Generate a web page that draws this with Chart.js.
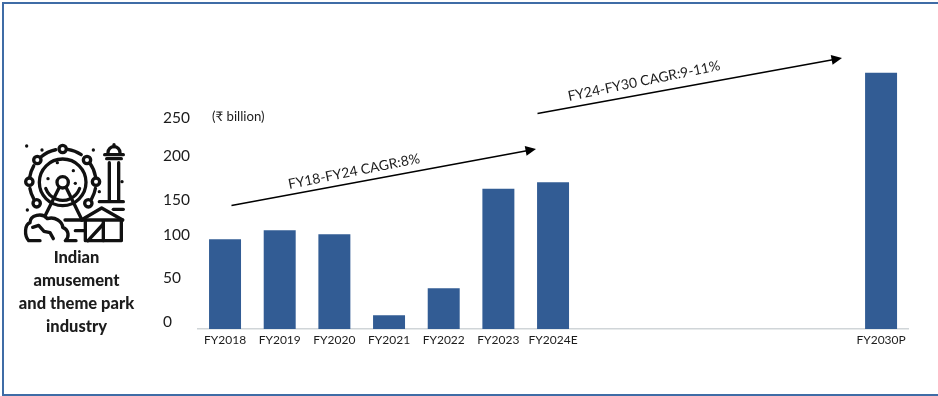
<!DOCTYPE html>
<html lang="en">
  <head>
    <meta charset="UTF-8" />
    <title>Indian amusement and theme park industry</title>
    <style>
      html, body { margin: 0; padding: 0; background: #fff; }
      canvas { display: block; }
    </style>
  </head>
  <body>
    <canvas id="chart" width="938" height="396"></canvas>
    <script src="https://cdn.jsdelivr.net/npm/chart.js@4/dist/chart.umd.js"></script>
    <script>
      const categories = ["FY2018", "FY2019", "FY2020", "FY2021", "FY2022", "FY2023", "FY2024E", "", "", "", "", "", "FY2030P"];
      const values = [110, 121, 116, 17, 50, 172, 180, null, null, null, null, null, 314];
      const tickLabels = [0, 50, 100, 150, 200, 250];
      const titleLines = ["Indian", "amusement", "and theme park", "industry"];

      // the tick labels sit a little above their true height in the original
      const tickNudge = [9, 13, 15, 8, 12, 9];

      const font = "Lato, Carlito, sans-serif";
      const ink = "#1c1c1c";

      function arrow(ctx, x1, y1, x2, y2) {
        const a = Math.atan2(y2 - y1, x2 - x1);
        ctx.save();
        ctx.strokeStyle = "#000";
        ctx.fillStyle = "#000";
        ctx.lineWidth = 1.5;
        ctx.beginPath();
        ctx.moveTo(x1, y1);
        ctx.lineTo(x2 - 8 * Math.cos(a), y2 - 8 * Math.sin(a));
        ctx.stroke();
        ctx.translate(x2, y2);
        ctx.rotate(a);
        ctx.beginPath();
        ctx.moveTo(0, 0);
        ctx.lineTo(-10.5, -5);
        ctx.lineTo(-10.5, 5);
        ctx.closePath();
        ctx.fill();
        ctx.restore();
      }

      function slanted(ctx, text, x, y, deg, size) {
        ctx.save();
        ctx.translate(x, y);
        ctx.rotate((deg * Math.PI) / 180);
        ctx.font = size + "px " + font;
        ctx.fillStyle = ink;
        ctx.textAlign = "center";
        ctx.textBaseline = "middle";
        ctx.fillText(text, 0, 0);
        ctx.restore();
      }

      function circle(ctx, x, y, r) {
        ctx.beginPath();
        ctx.arc(x, y, r, 0, Math.PI * 2);
        ctx.stroke();
      }

      function poly(ctx, pts) {
        ctx.beginPath();
        pts.forEach((p, i) => (i ? ctx.lineTo(p[0], p[1]) : ctx.moveTo(p[0], p[1])));
        ctx.stroke();
      }

      // ferris wheel pictogram, drawn in a 324 unit box
      function icon(ctx) {
        ctx.save();
        ctx.translate(20, 140);
        ctx.scale(1 / 3, 1 / 3);
        ctx.strokeStyle = "#111";
        ctx.fillStyle = "#111";
        ctx.lineWidth = 10;
        ctx.lineCap = "round";
        ctx.lineJoin = "round";

        circle(ctx, 128, 127, 70);
        ctx.beginPath();
        ctx.arc(128, 127, 54, 0.35, Math.PI - 0.35);
        ctx.stroke();
        circle(ctx, 128, 127, 17);

        [[128, 27], [201, 60], [228, 125], [205, 190], [50, 190], [28, 125], [52, 60]].forEach((p) => circle(ctx, p[0], p[1], 11));
        [[-1.42, -0.98], [-0.62, -0.18], [0.18, 0.52], [2.62, 2.96], [3.3, 3.66], [4.0, 4.5]].forEach((s) => {
          ctx.beginPath();
          ctx.arc(128, 127, 100, s[0], s[1]);
          ctx.stroke();
        });

        poly(ctx, [[118, 142], [76, 226]]);
        poly(ctx, [[138, 142], [186, 240]]);

        // tower
        poly(ctx, [[254, 44], [310, 44]]);
        ctx.beginPath();
        ctx.arc(282, 38, 18, Math.PI, 0);
        ctx.stroke();
        poly(ctx, [[282, 20], [282, 14]]);
        poly(ctx, [[260, 56], [304, 56]]);
        poly(ctx, [[268, 68], [268, 182]]);
        poly(ctx, [[296, 68], [296, 182]]);
        poly(ctx, [[238, 185], [310, 185]]);

        // bush
        ctx.beginPath();
        ctx.moveTo(60, 302);
        ctx.lineTo(26, 302);
        ctx.bezierCurveTo(12, 285, 14, 254, 30, 248);
        ctx.bezierCurveTo(30, 226, 66, 216, 82, 236);
        ctx.bezierCurveTo(105, 228, 128, 246, 128, 262);
        ctx.bezierCurveTo(148, 270, 148, 292, 136, 302);
        ctx.lineTo(168, 302);
        ctx.stroke();
        poly(ctx, [[38, 262], [56, 256], [72, 274], [90, 278], [100, 296]]);

        // house and fence
        poly(ctx, [[184, 240], [245, 204], [308, 240]]);
        poly(ctx, [[135, 240], [308, 240]]);
        poly(ctx, [[196, 242], [196, 302], [304, 302], [304, 242]]);
        poly(ctx, [[250, 242], [250, 302]]);
        poly(ctx, [[204, 302], [250, 252]]);
        poly(ctx, [[166, 272], [196, 272]]);
        poly(ctx, [[280, 208], [310, 208]]);

        [[20, 18], [66, 30], [220, 30], [160, 92], [84, 116], [166, 130], [306, 125], [238, 155], [22, 210], [112, 68]].forEach((p) => {
          ctx.beginPath();
          ctx.arc(p[0], p[1], 5, 0, Math.PI * 2);
          ctx.fill();
        });
        ctx.restore();
      }

      const overlay = {
        id: "overlay",
        afterDraw(chart) {
          const ctx = chart.ctx;
          ctx.save();

          // panel frame, open on the right
          ctx.strokeStyle = "#3f6ca6";
          ctx.lineWidth = 2;
          ctx.beginPath();
          ctx.moveTo(938, 3);
          ctx.lineTo(3, 3);
          ctx.lineTo(3, 395);
          ctx.lineTo(938, 395);
          ctx.stroke();

          icon(ctx);

          ctx.fillStyle = ink;
          ctx.font = "900 16.5px " + font;
          ctx.textAlign = "center";
          ctx.textBaseline = "middle";
          titleLines.forEach((line, i) => ctx.fillText(line, 76.5, 257.5 + i * 22.9));

          ctx.font = "13.2px " + font + ", 'Noto Sans'";
          ctx.textAlign = "left";
          ctx.fillText("(₹ billion)", 212, 116.5);

          arrow(ctx, 231.5, 205.5, 536, 149);
          arrow(ctx, 537.5, 113.5, 842, 58);
          slanted(ctx, "FY18-FY24 CAGR:8%", 354, 171.5, -11.3, 13.9);
          slanted(ctx, "FY24-FY30 CAGR:9-11%", 644, 81, -11.6, 13.9);

          ctx.restore();
        },
      };

      new Chart(document.getElementById("chart"), {
        type: "bar",
        data: {
          labels: categories,
          datasets: [
            {
              label: "₹ billion",
              data: values,
              backgroundColor: "#325c94",
              barPercentage: 0.585,
              categoryPercentage: 1,
            },
          ],
        },
        options: {
          responsive: false,
          animation: false,
          layout: { padding: { left: 163, right: 29.6, top: 19, bottom: 0 } },
          plugins: { legend: { display: false }, tooltip: { enabled: false } },
          scales: {
            x: {
              grid: { display: false, drawTicks: false },
              border: { display: true, color: "#d0d5d8", width: 1.5 },
              ticks: {
                autoSkip: false,
                maxRotation: 0,
                padding: 4,
                color: ink,
                font: { family: font, size: 12 },
              },
              afterFit(scale) {
                scale.height = 67;
              },
            },
            y: {
              min: 0,
              max: 380,
              grid: { display: false },
              border: { display: false },
              afterBuildTicks(scale) {
                scale.ticks = tickLabels.map((v, i) => ({ value: v + tickNudge[i] }));
              },
              ticks: {
                crossAlign: "far",
                color: ink,
                font: { family: font, size: 15.5 },
                callback: (value, index) => tickLabels[index],
              },
              afterFit(scale) {
                scale.width = 34.7;
              },
            },
          },
        },
        plugins: [overlay],
      });
    </script>
  </body>
</html>
